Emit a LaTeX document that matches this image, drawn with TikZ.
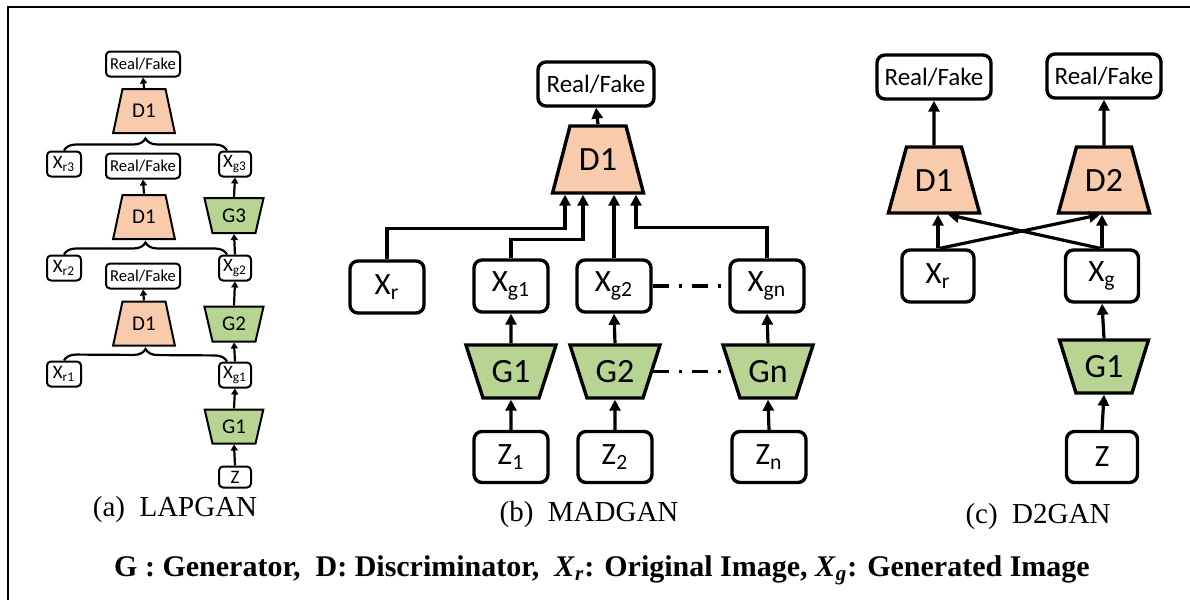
\documentclass[tikz,border=0pt]{standalone}
\usepackage{fontspec}
\setmainfont{Liberation Serif}
\newfontfamily\boxfont{Carlito}
\usetikzlibrary{shapes.geometric,arrows.meta,decorations.pathreplacing,calc}
\definecolor{dcol}{RGB}{248,203,173}
\definecolor{gcol}{RGB}{183,212,146}

\tikzset{
	%big boxes (MADGAN, D2GAN)
	box/.style={draw, rounded corners=4pt, line width=1.7pt, fill=white, inner sep=0pt},
	rf/.style={box, minimum width=58pt, minimum height=22pt, font=\boxfont\fontsize{12.5}{14}\selectfont},
	xbox/.style={box, minimum width=37pt, minimum height=26pt, font=\boxfont\fontsize{15.5}{17}\selectfont},
	%trapezia: text width = short side, text height/depth = body height
	disc/.style={trapezium, draw, line width=1.7pt, fill=dcol, inner sep=0pt, align=center, font=\boxfont\fontsize{17}{20}\selectfont},
	gen/.style={disc, fill=gcol, shape border rotate=180},
	arr/.style={line width=1.6pt, -{Triangle[length=5.5pt,width=5.5pt]}},
	dashdot/.style={line width=1.6pt, dash pattern=on 8pt off 5pt on 1.5pt off 5pt},
	%small boxes (LAPGAN)
	sbox/.style={draw, rounded corners=2pt, line width=1pt, fill=white, inner sep=0pt},
	srf/.style={sbox, minimum width=37pt, minimum height=12.5pt, font=\boxfont\fontsize{8.3}{10}\selectfont},
	sx/.style={sbox, minimum width=17pt, minimum height=12.5pt, font=\boxfont\fontsize{9.5}{11}\selectfont},
	sdisc/.style={disc, line width=1pt, font=\boxfont\fontsize{10.5}{12}\selectfont, text width=21.5pt, text height=14.4pt, text depth=7.6pt, trapezium angle=78},
	sgen/.style={disc, fill=gcol, shape border rotate=180, line width=1pt, font=\boxfont\fontsize{10.5}{12}\selectfont, text width=21.5pt, text height=12.15pt, text depth=5.35pt, trapezium angle=77},
	sarr/.style={line width=1.1pt, -{Triangle[length=3pt,width=3.5pt]}},
	sbrace/.style={line width=1.1pt, decorate, decoration={brace, amplitude=6pt}},
	captext/.style={font=\fontsize{14.5}{17}\selectfont}
}

\begin{document}
\begin{tikzpicture}[x=0.5pt,y=-0.5pt]
	\useasboundingbox (0,0) rectangle (1190,600);
	%frame
	\draw[line width=1pt] (8,600) -- (8,7) -- (1190,7);
	
	%LAPGAN
	\node[srf] (lrf3) at (143,64) {Real/Fake};
	\node[sdisc] (ld3) at (144,111) {D1};
	\node[sx] (lxr3) at (64,164) {X\textsubscript{r3}};
	\node[srf] (lrf2) at (143,166) {Real/Fake};
	\node[sx, minimum width=16pt] (lxg3) at (235,164) {X\textsubscript{g3}};
	\node[sdisc] (ld2) at (144,217) {D1};
	\node[sgen] (lg3) at (234,215.5) {G3};
	\node[sx] (lxr2) at (64,268) {X\textsubscript{r2}};
	\node[sx, minimum width=16pt] (lxg2) at (235,268) {X\textsubscript{g2}};
	\node[srf] (lrf1) at (143,276) {Real/Fake};
	\node[sdisc] (ld1) at (144,323.5) {D1};
	\node[sgen] (lg2) at (234,324) {G2};
	\node[sx] (lxr1) at (64,374) {X\textsubscript{r1}};
	\node[sx, minimum width=16pt] (lxg1) at (235,375) {X\textsubscript{g1}};
	\node[sgen, text height=11.9pt, text depth=5.1pt] (lg1) at (234,426.5) {G1};
	\node[sx, minimum width=16pt, minimum height=10.5pt] (lz) at (235,477) {Z};
	\node[captext] (capa) at (175,510) {(a)\ \ LAPGAN};
	
	\draw[sarr] (ld3.north) -- (lrf3.south);
	\draw[sarr] (ld2.north) -- (lrf2.south);
	\draw[sarr] (ld1.north) -- (lrf1.south);
	\draw[sarr] (lz.north) -- (lg1.south);
	\draw[sarr] (lg1.north) -- (lxg1.south);
	\draw[sarr] (lxg1.north) -- (lg2.south);
	\draw[sarr] (lg2.north) -- (lxg2.south);
	\draw[sarr] (lxg2.north) -- (lg3.south);
	\draw[sarr] (lg3.north) -- (lxg3.south);
	\draw[sbrace] (lxr3.north) -- ([xshift=-4pt]lxg3.north);
	\draw[sbrace] (lxr2.north) -- ([xshift=-4pt]lxg2.north);
	\draw[sbrace] (lxr1.north) -- ([xshift=-4pt]lxg1.north);
	
	%MADGAN
	\node[rf] (mrf) at (596,84) {Real/Fake};
	\node[disc, text width=28pt, text height=22.25pt, text depth=11.25pt, trapezium angle=75.4] (md) at (598,159.5) {D1};
	\node[xbox] (mxr) at (387,287) {X\textsubscript{r}};
	\node[xbox] (mxg1) at (511,286) {X\textsubscript{g1}};
	\node[xbox] (mxg2) at (614,286) {X\textsubscript{g2}};
	\node[xbox] (mxgn) at (767,286) {X\textsubscript{gn}};
	\foreach \i/\x in {1/511,2/615,n/768}
		\node[gen, text width=28pt, text height=18.75pt, text depth=7.75pt, trapezium angle=72.2] (mg\i) at (\x,371.5) {G\i};
	\node[xbox, minimum height=25.5pt] (mz1) at (511,457) {Z\textsubscript{1}};
	\node[xbox, minimum height=25.5pt] (mz2) at (615,457) {Z\textsubscript{2}};
	\node[xbox, minimum height=25.5pt] (mzn) at (769,457) {Z\textsubscript{n}};
	\node[captext] (capb) at (589,515) {(b)\ \ MADGAN};
	
	\coordinate (min1) at ($(md.south)+(-33,0)$);
	\coordinate (min2) at ($(md.south)+(-15,0)$);
	\coordinate (min4) at ($(md.south)+(38,0)$);
	\draw[arr] (md.north) -- (mrf.south);
	\draw[arr] (mxr.north) |- ([yshift=-17pt]min1) -- (min1);
	\draw[arr] (mxg1.north) |- ([yshift=-22.5pt]min2) -- (min2);
	\draw[arr] (mxg2.north) -- (mxg2.north |- md.south);
	\draw[arr] (mxgn.north) |- ([yshift=-16.5pt]min4) -- (min4);
	\foreach \i in {1,2,n}{
		\draw[arr] (mz\i.north) -- (mg\i.south);
		\draw[arr] (mg\i.north) -- (mxg\i.south);
	}
	\draw[dashdot] (mxg2.east) -- (mxgn.west);
	\draw[dashdot] (mg2.east) -- (mgn.west);
	
	%D2GAN
	\node[rf, minimum width=57pt] (crf1) at (934,77) {Real/Fake};
	\node[rf, minimum width=57pt] (crf2) at (1104,76) {Real/Fake};
	\node[disc, text width=27.5pt, text height=22pt, text depth=11pt, trapezium angle=74.7] (cd1) at (934,180) {D1};
	\node[disc, text width=27.5pt, text height=22pt, text depth=11pt, trapezium angle=74.7] (cd2) at (1104,180) {D2};
	\node[xbox, minimum width=36pt] (cxr) at (938,276) {X\textsubscript{r}};
	\node[xbox, minimum width=36.5pt] (cxg) at (1102,276) {X\textsubscript{g}};
	\node[gen, text width=28pt, text height=18.75pt, text depth=7.75pt, trapezium angle=72.7] (cg) at (1104,366.5) {G1};
	\node[xbox, minimum width=35.5pt, minimum height=25.5pt] (cz) at (1102,457) {Z};
	\node[captext] (capc) at (1038,517) {(c)\ \ D2GAN};
	
	\draw[arr] (cd1.north) -- (crf1.south);
	\draw[arr] (cd2.north) -- (crf2.south);
	\draw[arr] (cxr.north) -- (cxr.north |- cd1.south);
	\draw[arr] (cxg.north) -- (cxg.north |- cd2.south);
	\draw[arr] ([xshift=1pt]cxr.north) -- ([xshift=-2pt]cd2.south);
	\draw[arr] ([xshift=-1pt]cxg.north) -- ([xshift=7pt]cd1.south);
	\draw[arr] (cz.north) -- (cg.south);
	\draw[arr] (cg.north) -- (cxg.south);
	
	%legend
	\node[font=\fontsize{15}{18}\selectfont\bfseries] (legend) at (602,570) {G : Generator,\ \ D: Discriminator,\ \ \textit{X}\textsubscript{\textit{r}}: Original Image, \textit{X}\textsubscript{\textit{g}}: Generated Image};
\end{tikzpicture}
\end{document}
